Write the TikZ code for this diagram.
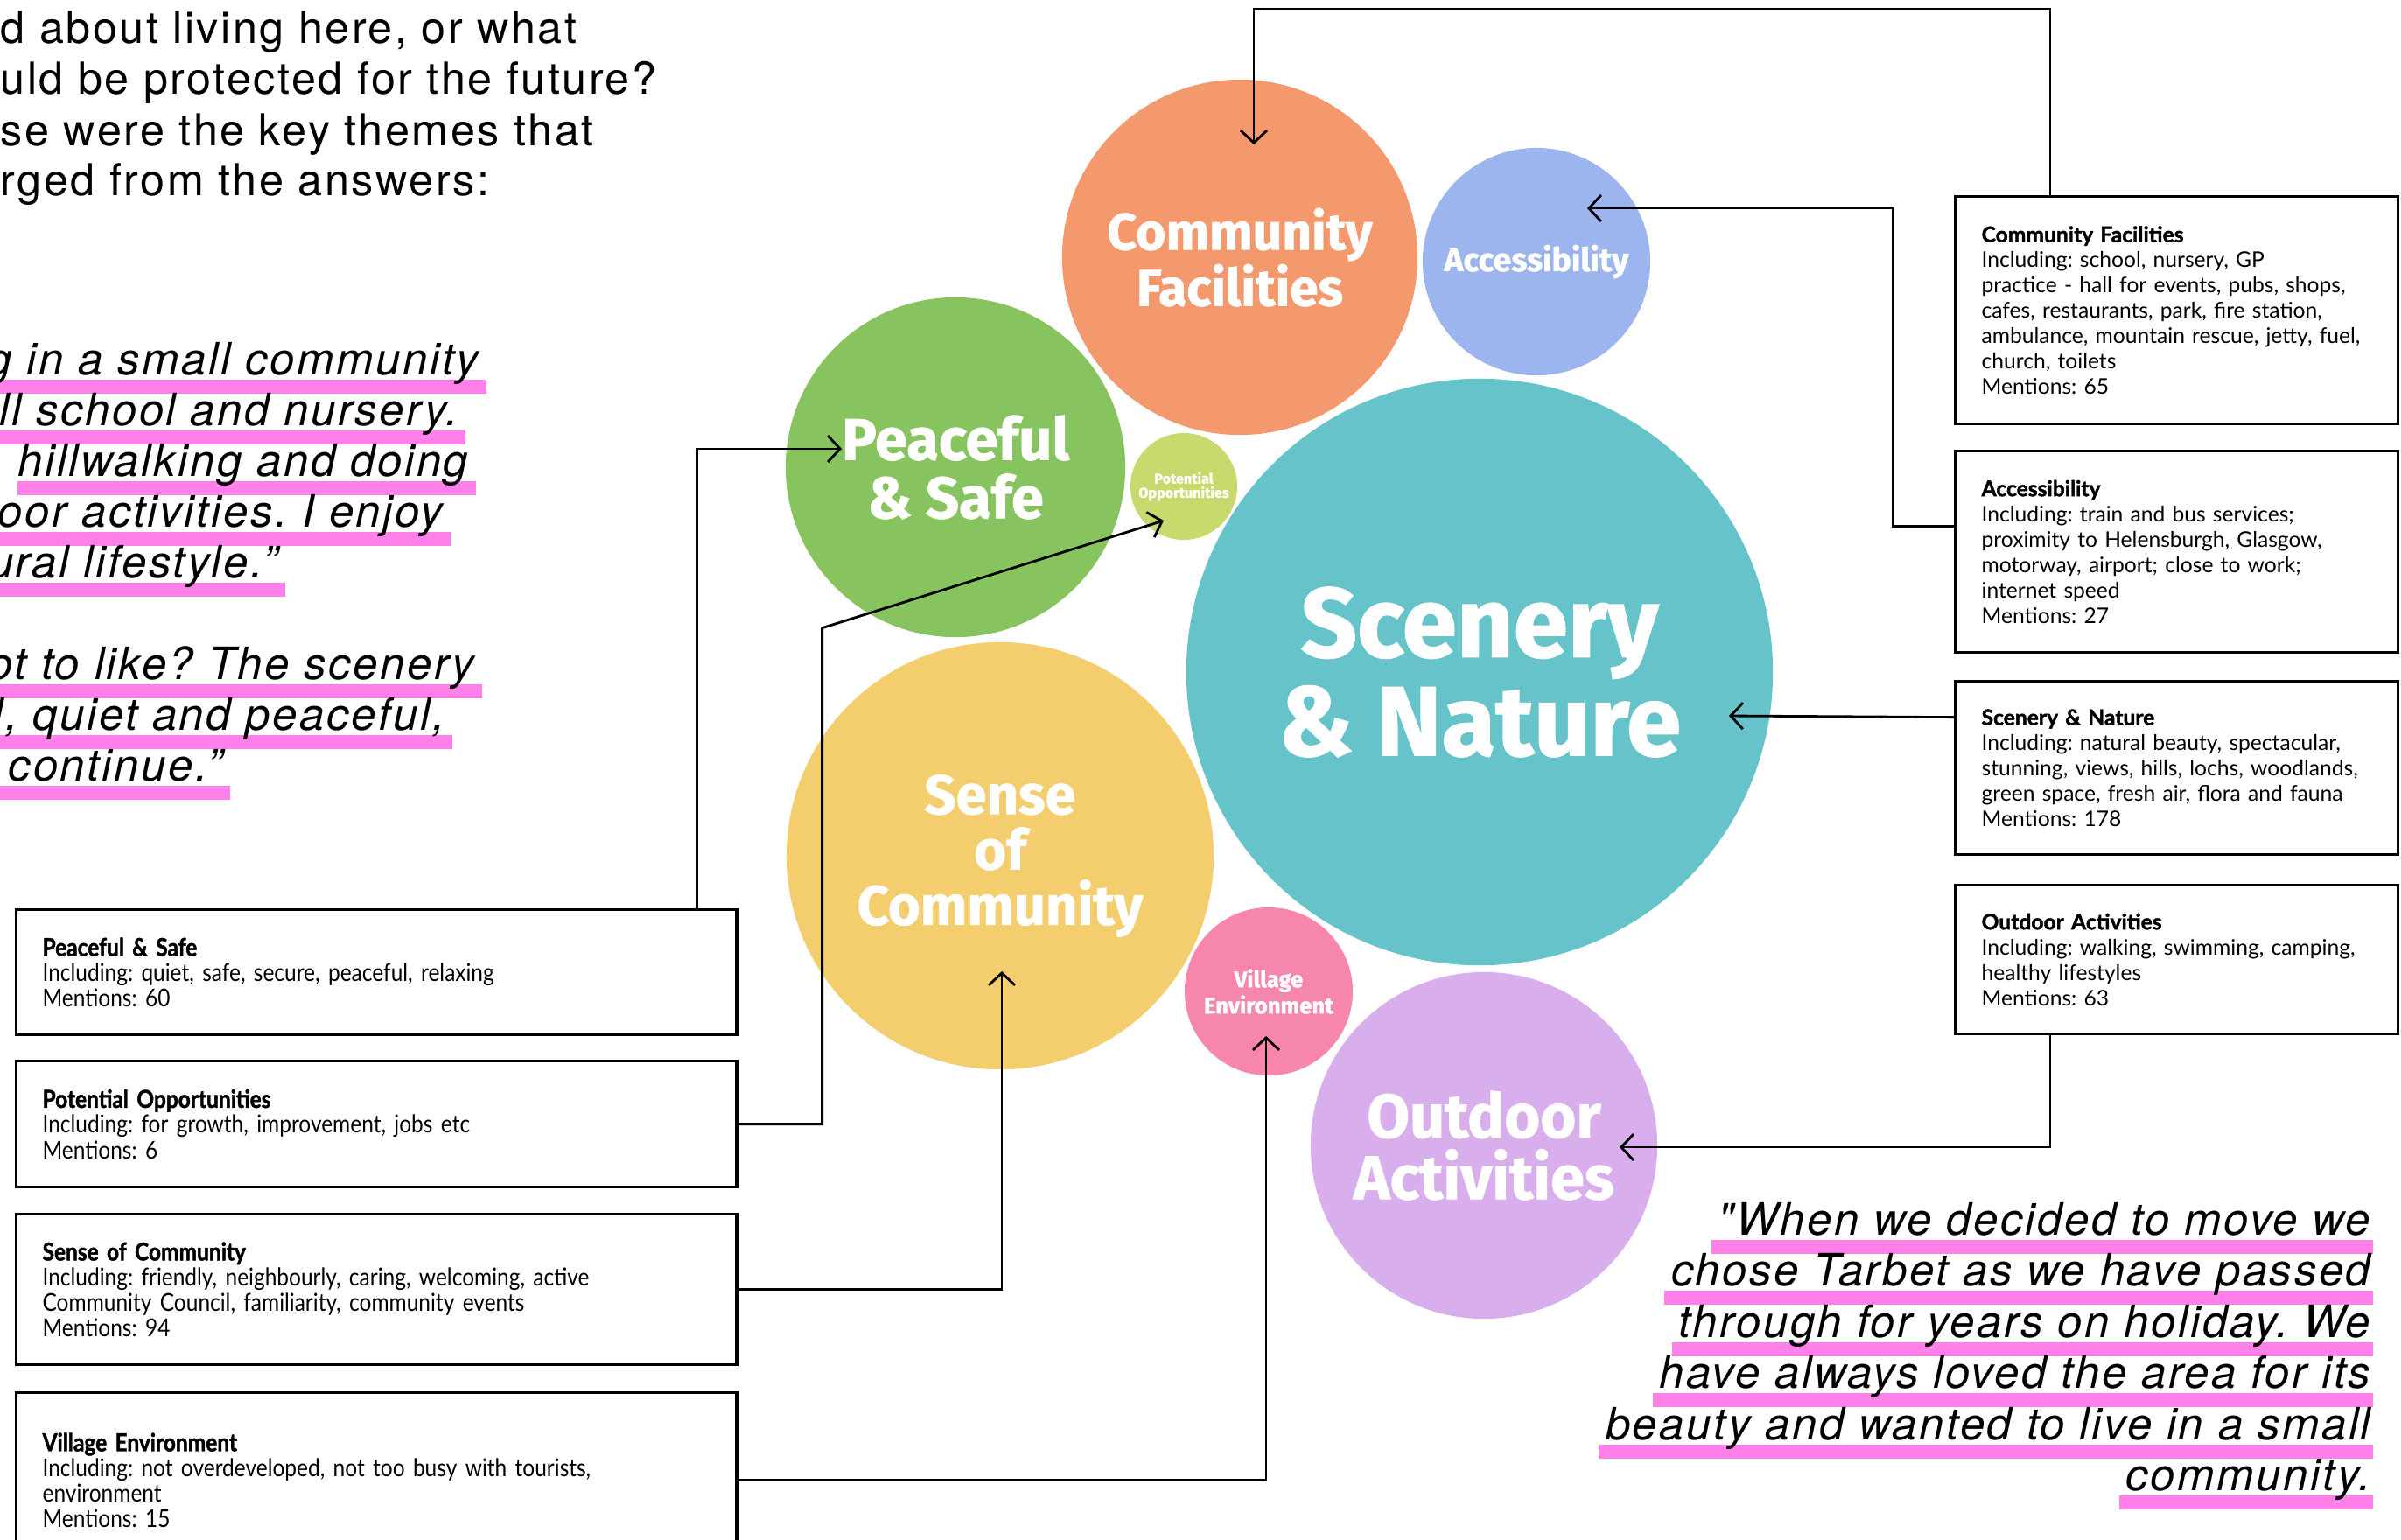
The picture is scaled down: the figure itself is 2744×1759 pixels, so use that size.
\documentclass[tikz,border=0pt]{standalone}
\usepackage{fontspec}
\usepackage{xcolor}
\usepackage{tikz}
\usetikzlibrary{positioning}
\usetikzlibrary{backgrounds}
\usetikzlibrary{arrows.meta}

\newfontfamily\quotefont[LetterSpace=5]{TeX Gyre Heros}
\newfontfamily\boxfont[BoldFeatures={FakeBold=1.5}]{Lato}
\newfontfamily\narrowfont[FakeStretch=0.87, BoldFeatures={FakeBold=1.5}]{Lato}
\newfontfamily\bubblefont[BoldFeatures={FakeBold=1.2}]{Fira Sans}
\frenchspacing

\definecolor{cfcol}{HTML}{F4996E}
\definecolor{accol}{HTML}{9DB5EE}
\definecolor{pscol}{HTML}{87C35E}
\definecolor{pocol}{HTML}{C8DA6E}
\definecolor{sncol}{HTML}{67C3CA}
\definecolor{sccol}{HTML}{F4CD6E}
\definecolor{vecol}{HTML}{F686AE}
\definecolor{oacol}{HTML}{D9AEEC}
\definecolor{hlpink}{HTML}{FF80E8}

\begin{document}
\begin{tikzpicture}
  [
    x=0.01cm, y=-0.01cm,
    bub/.style n args={3}{circle, inner sep=0pt, fill=#1, minimum size=#2,
      text=white, align=center, font=\bubblefont\bfseries\fontsize{#3}{#3}\selectfont},
    tbox/.style={draw=black, line width=0.9pt, anchor=north west, align=left,
      inner xsep=0.3cm, inner ysep=0pt},
    lbox/.style={tbox, text width=7.63cm, font=\narrowfont\fontsize{8pt}{8.25pt}\selectfont},
    rbox/.style={tbox, text width=4.46cm, font=\boxfont\fontsize{7pt}{8.25pt}\selectfont},
    hline/.style={inner sep=0pt, anchor=base west, font=\quotefont\fontsize{14.3pt}{16pt}\selectfont},
    qline/.style={inner sep=0pt, anchor=base east, font=\quotefont\itshape\fontsize{14.5pt}{16pt}\selectfont},
    link/.style={draw=black, line width=0.8pt, -{Straight Barb[length=1.4mm,width=3mm]}},
    hl/.style={fill=hlpink}
  ]
  \useasboundingbox (0,0) rectangle (2744,1759);
  \clip (0,0) rectangle (2744,1759);

  % bubbles
  \node (cfC) at (1417,294)  [bub={cfcol}{4.06cm}{16.7pt}] {Community\\Facilities};
  \node (acC) at (1756,299)  [bub={accol}{2.6cm}{10.6pt}]  {Accessibility};
  \node (psC) at (1092,534)  [bub={pscol}{3.88cm}{19pt}]   {Peaceful\\\& Safe};
  \node (poC) at (1353,556)  [bub={pocol}{1.22cm}{4.6pt}]  {Potential\\Opportunities};
  \node (snC) at (1691,768)  [bub={sncol}{6.7cm}{32pt}]    {Scenery\\\& Nature};
  \node (scC) at (1143,978)  [bub={sccol}{4.88cm}{18pt}]   {Sense\\of\\Community};
  \node (veC) at (1450,1133) [bub={vecol}{1.92cm}{7.3pt}]  {Village\\Environment};
  \node (oaC) at (1696,1309) [bub={oacol}{3.96cm}{20pt}]   {Outdoor\\Activities};

  % boxes right
  \node (cfB) at (2233,223) [rbox, minimum height=2.6cm]
    {{\bfseries Community Facilities}\\Including: school, nursery, GP\\practice - hall for events, pubs, shops,\\cafes, restaurants, park, fire station,\\ambulance, mountain rescue, jetty, fuel,\\church, toilets\\Mentions: 65};
  \node (acB) at (2233,514) [rbox, minimum height=2.3cm]
    {{\bfseries Accessibility}\\Including: train and bus services;\\proximity to Helensburgh, Glasgow,\\motorway, airport; close to work;\\internet speed\\Mentions: 27};
  \node (snB) at (2233,777) [rbox, minimum height=1.98cm]
    {{\bfseries Scenery \& Nature}\\Including: natural beauty, spectacular,\\stunning, views, hills, lochs, woodlands,\\green space, fresh air, flora and fauna\\Mentions: 178};
  \node (oaB) at (2233,1010) [rbox, minimum height=1.7cm]
    {{\bfseries Outdoor Activities}\\Including: walking, swimming, camping,\\healthy lifestyles\\Mentions: 63};

  % boxes left
  \node (psB) at (17,1038) [lbox, minimum height=1.43cm]
    {{\bfseries Peaceful \& Safe}\\Including: quiet, safe, secure, peaceful, relaxing\\Mentions: 60};
  \node (poB) at (17,1211) [lbox, minimum height=1.44cm]
    {{\bfseries Potential Opportunities}\\Including: for growth, improvement, jobs etc\\Mentions: 6};
  \node (scB) at (17,1386) [lbox, minimum height=1.72cm]
    {{\bfseries Sense of Community}\\Including: friendly, neighbourly, caring, welcoming, active\\Community Council, familiarity, community events\\Mentions: 94};
  \node (veB) at (17,1590) [lbox, minimum height=2cm]
    {{\bfseries Village Environment}\\Including: not overdeveloped, not too busy with tourists,\\environment\\Mentions: 15};

  % links
  \draw[link] ([xshift=1.1cm]cfB.north west) -- ++(0,-213) -| ([shift={(16,-129)}]cfC.center);
  \draw[link] ([yshift=0.29cm]acB.west) -- ++(-70,0) |- ([shift={(58,-61)}]acC.center);
  \draw[link] ([yshift=0.58cm]snB.west) -- ([shift={(285,50)}]snC.center);
  \draw[link] ([xshift=1.1cm]oaB.south west) |- ([shift={(155,2)}]oaC.center);
  \draw[link] ([xshift=7.79cm]psB.north west) |- ([shift={(-130,-21)}]psC.center);
  \draw[link] (poB.east) -- ++(96,0) -- ++(0,-567) -- ([shift={(-23,39)}]poC.center);
  \draw[link] (scB.east) -| ([shift={(2,132)}]scC.center);
  \draw[link] (veB.east) -| ([shift={(-3,51)}]veC.center);

  % heading
  \node (hd1) at (0,49)  [hline] {d about living here, or what};
  \node (hd2) at (0,107) [hline] {uld be protected for the future?};
  \node (hd3) at (0,166) [hline] {se were the key themes that};
  \node (hd4) at (0,223) [hline] {rged from the answers:};

  % quotes
  \node (ql1) at (548,428) [qline] {g in a small community};
  \node (ql2) at (524,486) [qline] {ll school and nursery.};
  \node (ql3) at (536,544) [qline] {hillwalking and doing};
  \node (ql4) at (507,602) [qline] {oor activities. I enjoy};
  \node (ql5) at (318,660) [qline] {ural lifestyle.”};
  \node (ql6) at (543,776) [qline] {ot to like? The scenery};
  \node (ql7) at (509,834) [qline] {l, quiet and peaceful,};
  \node (ql8) at (255,892) [qline] {t continue.”};

  \node (qr1) at (2710,1411) [qline] {"When we decided to move we};
  \node (qr2) at (2710,1469) [qline] {chose Tarbet as we have passed};
  \node (qr3) at (2710,1528) [qline] {through for years on holiday. We};
  \node (qr4) at (2710,1586) [qline] {have always loved the area for its};
  \node (qr5) at (2710,1645) [qline] {beauty and wanted to live in a small};
  \node (qr6) at (2710,1703) [qline] {community.};

  \begin{scope}[on background layer]
    \clip (0,0) rectangle (2744,1759);
    \foreach \q in {ql1,ql2,ql3,ql4,ql5,ql6,ql7,ql8}
      \fill[hl] ([yshift=-0.06cm]\q.base west) rectangle ([xshift=0.08cm,yshift=-0.22cm]\q.base east);
    \foreach \q in {qr1,qr2,qr3,qr4,qr5,qr6}
      \fill[hl] ([xshift=-0.07cm,yshift=-0.06cm]\q.base west) rectangle ([xshift=0.02cm,yshift=-0.22cm]\q.base east);
  \end{scope}
\end{tikzpicture}
\end{document}
